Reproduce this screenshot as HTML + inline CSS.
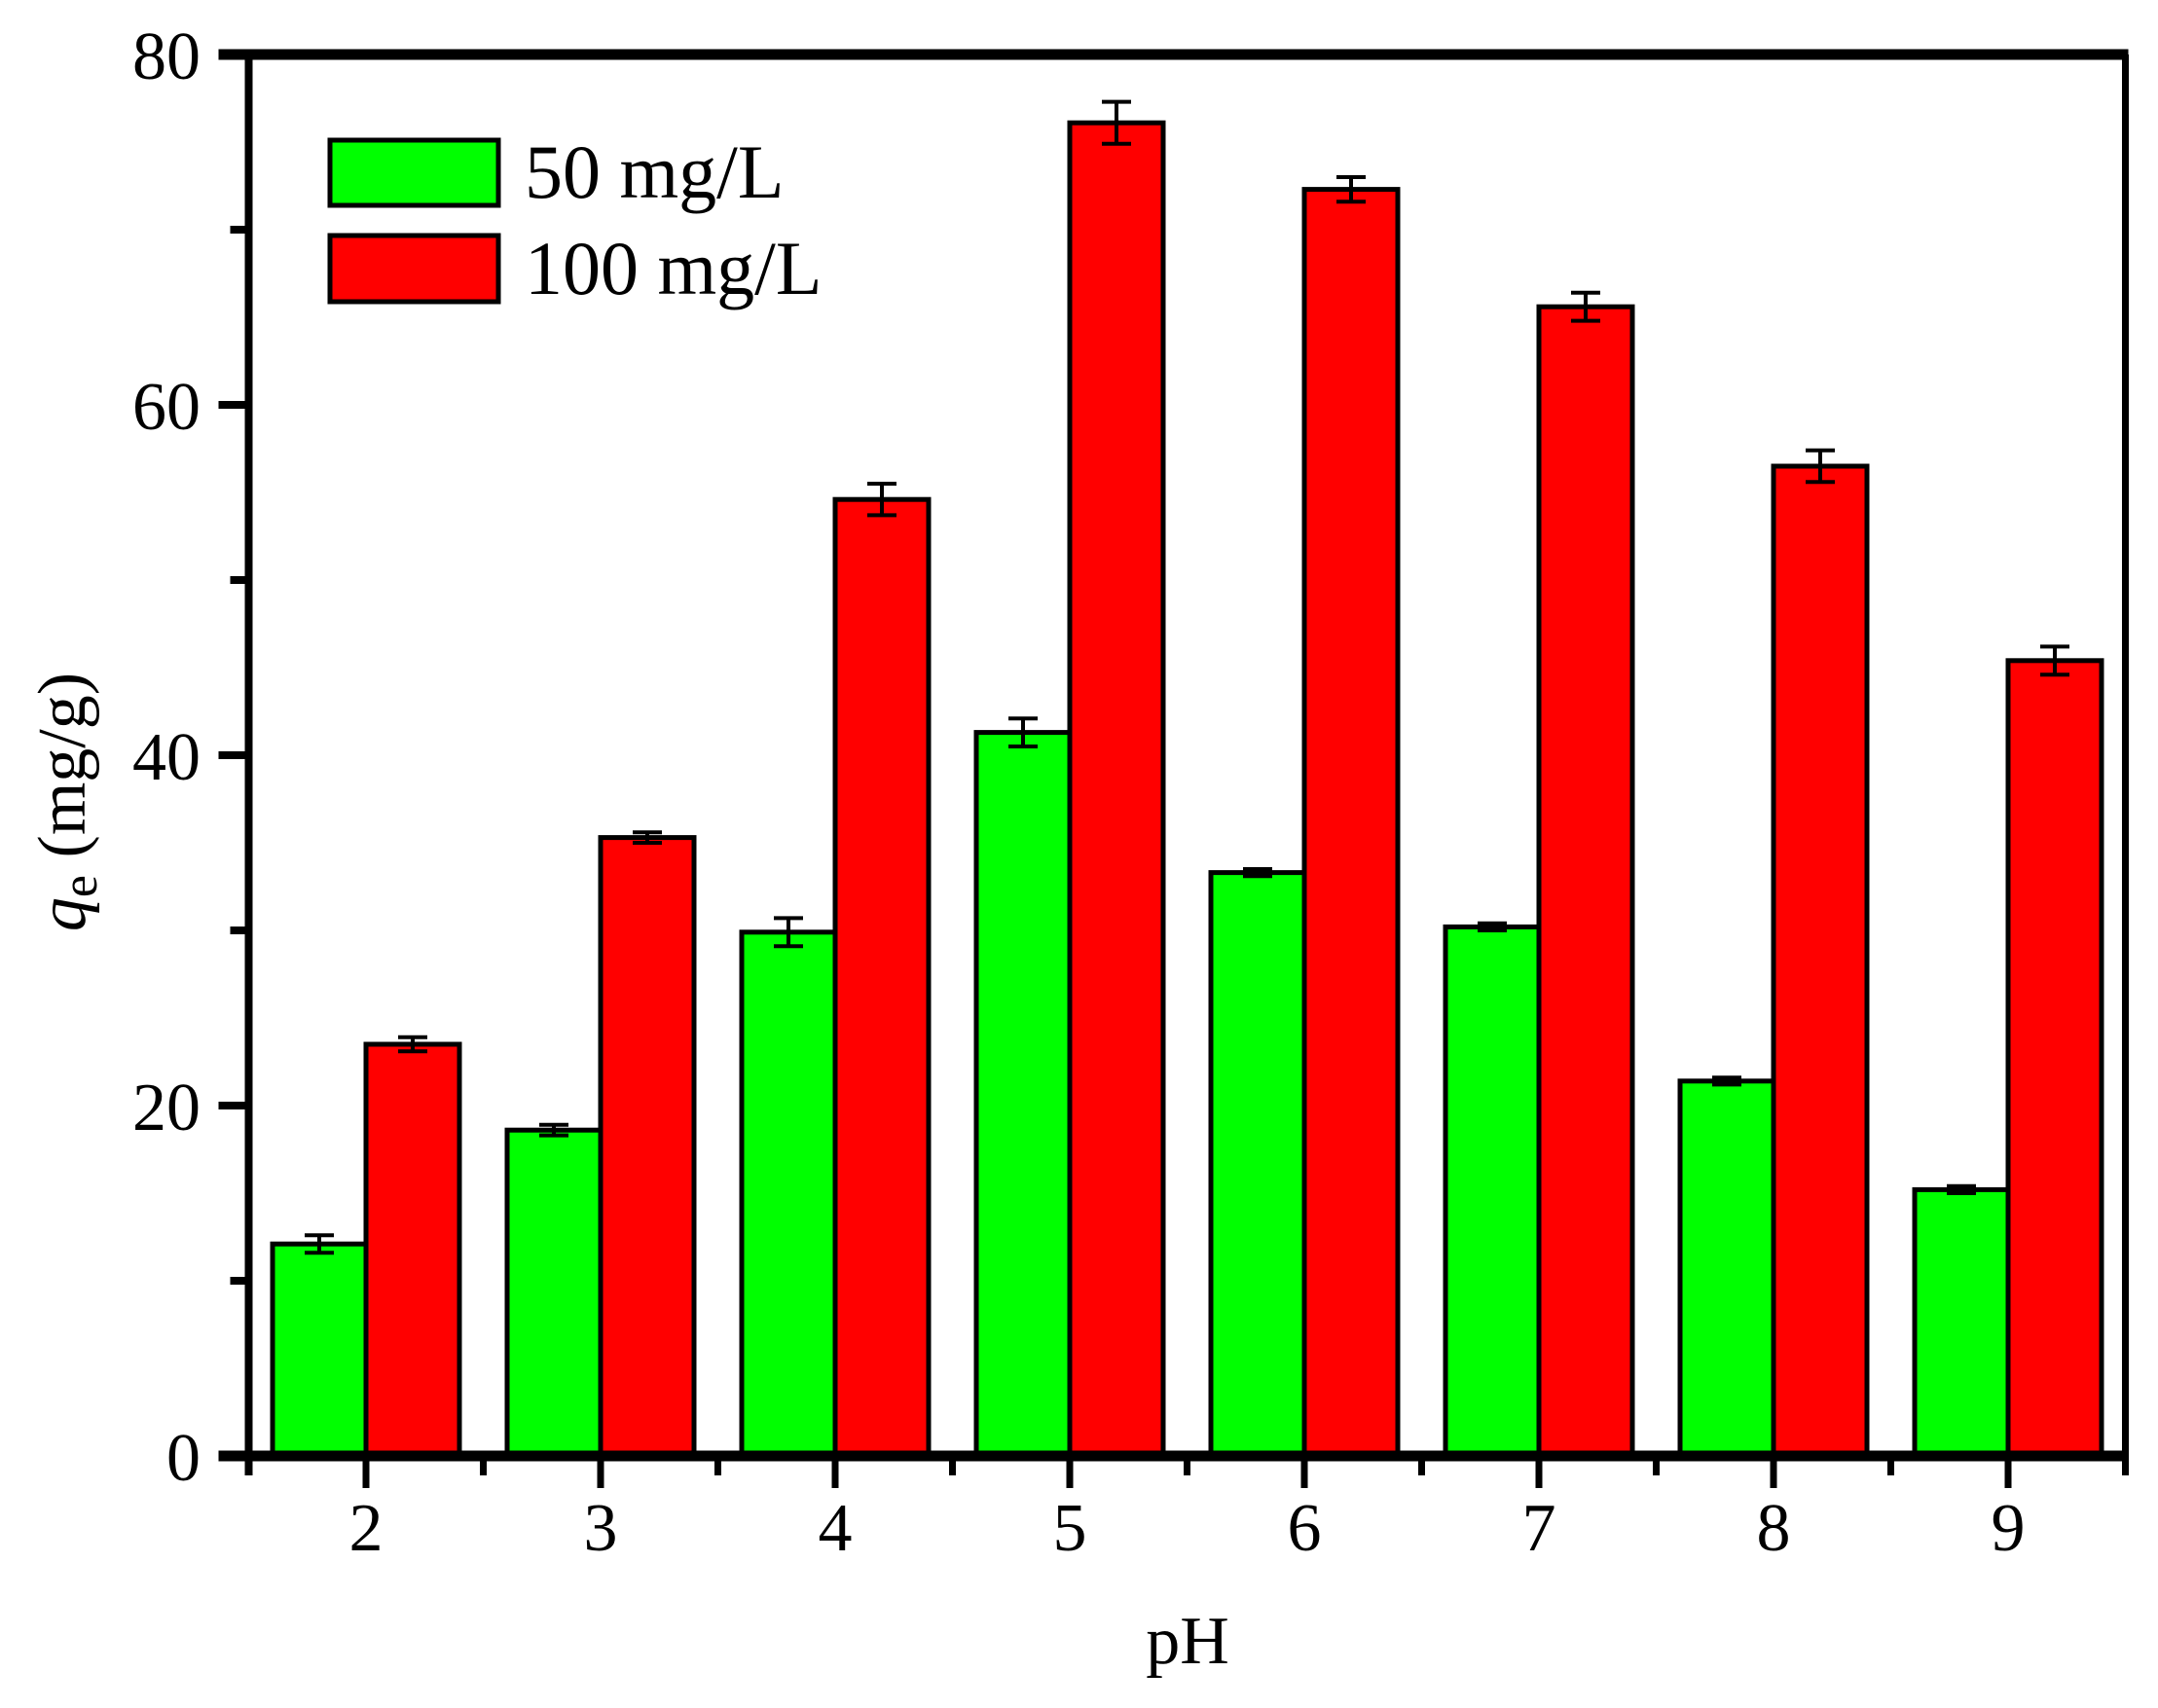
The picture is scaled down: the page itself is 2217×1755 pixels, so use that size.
<!DOCTYPE html>
<html><head><meta charset="utf-8"><style>
html,body{margin:0;padding:0;background:#fff;}
svg{display:block;}
text{font-family:"Liberation Serif",serif;fill:#000;}
</style></head><body>
<svg id="chart" width="2217" height="1755" viewBox="0 0 2217 1755">
<g id="bars"></g>
<g id="axes"></g>
<text x="1220" y="1709" font-size="70" text-anchor="middle">pH</text>
<text transform="translate(87,824) rotate(-90)" font-size="70" text-anchor="middle"><tspan font-style="italic">q</tspan><tspan font-size="52" dy="12">e</tspan><tspan dy="-12"> (mg/g)</tspan></text>
<g>
<rect x="339" y="144" width="173" height="67" fill="#00ff00" stroke="#000" stroke-width="5"/>
<text x="539" y="203" font-size="78">50 mg/L</text>
<rect x="339" y="242" width="173" height="68" fill="#ff0000" stroke="#000" stroke-width="5"/>
<text x="539" y="302" font-size="78">100 mg/L</text>
</g>
</svg>
<script>
const categories = [2, 3, 4, 5, 6, 7, 8, 9];
const series50 = [12.1, 18.6, 29.9, 41.3, 33.3, 30.2, 21.4, 15.2];
const err50 = [0.5, 0.3, 0.8, 0.8, 0.2, 0.2, 0.2, 0.2];
const series100 = [23.5, 35.3, 54.6, 76.1, 72.3, 65.6, 56.5, 45.4];
const err100 = [0.4, 0.3, 0.9, 1.2, 0.7, 0.8, 0.9, 0.8];
const yTicks = [0, 20, 40, 60, 80];

const NS = "http://www.w3.org/2000/svg";
const X0 = 376, XS = 241, Y0 = 1496, YS = 18;
const xs = v => X0 + (v - 2) * XS;
const ys = v => Y0 - v * YS;
const bars = document.getElementById('bars');
const axes = document.getElementById('axes');
function mk(tag, attrs, parent) {
  const e = document.createElementNS(NS, tag);
  for (const k in attrs) e.setAttribute(k, attrs[k]);
  parent.appendChild(e);
  return e;
}
const BW = 96;
categories.forEach((c, i) => {
  [[series50, err50, '#00ff00', -1, '50'], [series100, err100, '#ff0000', 0, '100']].forEach(([s, er, col, off, nm]) => {
    const x = xs(c) + off * BW;
    const r = mk('rect', {x: x, y: ys(s[i]), width: BW, height: Y0 - ys(s[i]), fill: col, stroke: '#000', 'stroke-width': 5}, bars);
    
    
    const cx = x + BW / 2;
    const g = mk('g', {stroke: '#000', 'stroke-width': 4}, bars);
    
    
    mk('line', {x1: cx, x2: cx, y1: ys(s[i] + er[i]), y2: ys(s[i] - er[i])}, g);
    mk('line', {x1: cx - 15, x2: cx + 15, y1: ys(s[i] + er[i]), y2: ys(s[i] + er[i])}, g);
    mk('line', {x1: cx - 15, x2: cx + 15, y1: ys(s[i] - er[i]), y2: ys(s[i] - er[i])}, g);
  });
});
const L = xs(1.5), R = xs(9.5), T = ys(80);
mk('line', {x1: L - 31, x2: R + 3, y1: T, y2: T, stroke: '#000', 'stroke-width': 11}, axes);
mk('line', {x1: L - 31, x2: R + 3, y1: Y0, y2: Y0, stroke: '#000', 'stroke-width': 11}, axes);
mk('line', {x1: L, x2: L, y1: T, y2: Y0 + 20, stroke: '#000', 'stroke-width': 8}, axes);
mk('line', {x1: R, x2: R, y1: T, y2: Y0 + 20, stroke: '#000', 'stroke-width': 7}, axes);
yTicks.forEach(v => {
  const t = mk('line', {x1: L - 31, x2: L, y1: ys(v), y2: ys(v), stroke: '#000', 'stroke-width': 8}, axes);
  
  const lb = mk('text', {x: 206, y: ys(v) + 25, 'font-size': 70, 'text-anchor': 'end'}, axes);
  lb.textContent = v;
  
  
});
for (let v = 10; v < 80; v += 20) {
  const t = mk('line', {x1: L - 19, x2: L, y1: ys(v), y2: ys(v), stroke: '#000', 'stroke-width': 8}, axes);
  
}
categories.forEach(c => {
  const t = mk('line', {x1: xs(c), x2: xs(c), y1: Y0, y2: Y0 + 33, stroke: '#000', 'stroke-width': 7}, axes);
  
  const m = mk('line', {x1: xs(c - 0.5), x2: xs(c - 0.5), y1: Y0, y2: Y0 + 20, stroke: '#000', 'stroke-width': 7}, axes);
  
  const lb = mk('text', {x: xs(c), y: 1593, 'font-size': 70, 'text-anchor': 'middle'}, axes);
  lb.textContent = c;
  
  
});
</script>
</body></html>
